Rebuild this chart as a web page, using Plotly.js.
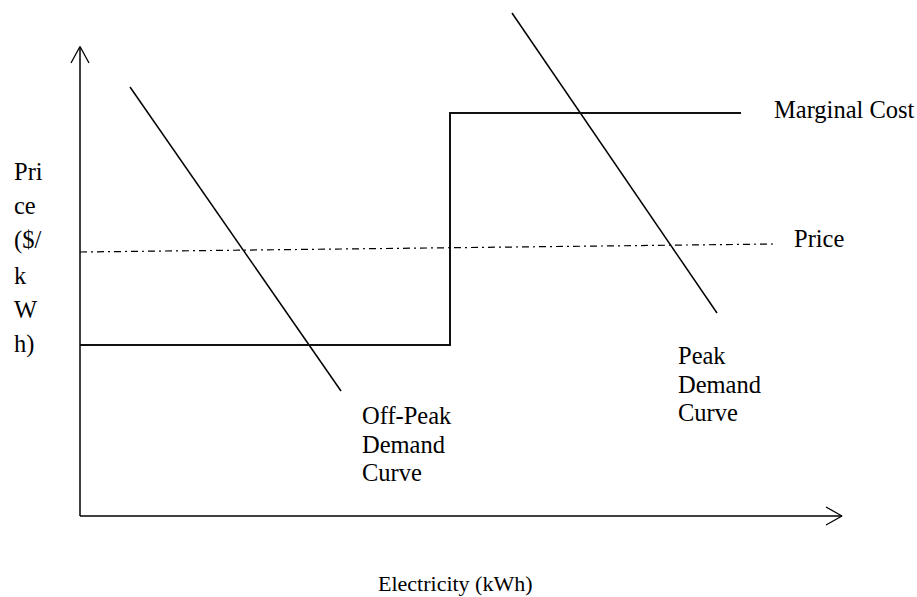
<!DOCTYPE html>
<html>
<head>
<meta charset="utf-8">
<script src="https://cdn.plot.ly/plotly-3.0.1.min.js"></script>
<style>html,body{margin:0;padding:0;background:#fff;}#chart{width:917px;height:597px;}</style>
</head>
<body>
<div id="chart"></div>
<script>
// Diagram values (quantity on x, price on y, arbitrary units)
const offPeakQ = [50, 261];
const offPeakP = [429, 125];
const peakQ = [432, 637];
const peakP = [503, 203];
const mcQ = [0, 370, 370, 661];
const mcP = [171, 171, 403, 403];
const priceQ = [0, 695];
const priceP = [264, 272];
const yAxisQ = [0, 0];
const yAxisP = [0, 469];
const yArrowQ = [-9, 0, 9];
const yArrowP = [453, 469.5, 453];
const xAxisQ = [0, 762];
const xAxisP = [0, 0];
const xArrowQ = [746, 762, 746];
const xArrowP = [9, 0, -9];

const yLabelLines = ["Pri", "ce", "($/", "k", "W", "h)"];
const yLabelP = [345, 311, 276, 241, 207, 172];
const offPeakLabel = ["Off-Peak", "Demand", "Curve"];
const offPeakLabelP = [101, 72, 44];
const peakLabel = ["Peak", "Demand", "Curve"];
const peakLabelP = [161, 132, 104];

const font = {family: "Liberation Serif, Times New Roman, serif", size: 24.5, color: "#000"};

function line(x, y, w, dash, color) {
  return {x: x, y: y, type: "scatter", mode: "lines", hoverinfo: "skip",
    line: {color: color || "#000", width: w, dash: dash || "solid"}};
}

const traces = [
  line(yAxisQ, yAxisP, 1.5),
  line(yArrowQ, yArrowP, 1.3),
  line(xAxisQ, xAxisP, 1.5),
  line(xArrowQ, xArrowP, 1.3),
  line(offPeakQ, offPeakP, 1.5),
  line(peakQ, peakP, 1.5),
  line(mcQ, mcP, 2, "solid", "#111"),
  line(priceQ, priceP, 1.2, "7px,4px,2px,4px")
];

const ann = [];
function txt(text, x, y, xanchor, f) {
  ann.push({text: text, x: x, y: y, xref: "x", yref: "y", showarrow: false,
    xanchor: xanchor || "left", yanchor: "middle", font: f || font});
}
yLabelLines.forEach((t, i) => txt(t, -68, yLabelP[i]));
offPeakLabel.forEach((t, i) => txt(t, 280, offPeakLabelP[i]));
peakLabel.forEach((t, i) => txt(t, 596, peakLabelP[i]));
txt("Marginal Cost", 692, 407);
txt("Price", 712, 278);
txt("Electricity (kWh)", 375, -67, "center", Object.assign({}, font, {size: 22}));

const layout = {
  width: 917, height: 597,
  margin: {l: 0, r: 0, t: 0, b: 0},
  paper_bgcolor: "#fff", plot_bgcolor: "#fff",
  showlegend: false,
  xaxis: {range: [-80, 837], visible: false, fixedrange: true},
  yaxis: {range: [-81, 516], visible: false, fixedrange: true},
  annotations: ann
};

Plotly.newPlot("chart", traces, layout, {staticPlot: true, displayModeBar: false});
</script>
</body>
</html>
